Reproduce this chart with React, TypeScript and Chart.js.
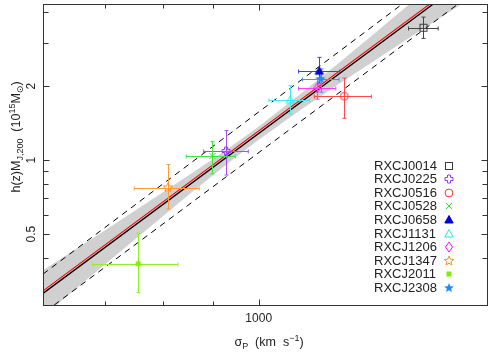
import { useEffect, useRef } from 'react';
import { Chart, registerables } from 'chart.js';

Chart.register(...registerables);

const W = 493;
const H = 354;

// ---- data ----
const clusters = ['RXCJ0014', 'RXCJ0225', 'RXCJ0516', 'RXCJ0528', 'RXCJ0658', 'RXCJ1131', 'RXCJ1206', 'RXCJ1347', 'RXCJ2011', 'RXCJ2308'];
const sigma = [1466, 927, 1220, 898, 1151, 1076, 1146, 810, 756, 1155];
const sigmaLo = [1416, 880, 1138, 845, 1097, 1024, 1097, 749, 680, 1107];
const sigmaHi = [1517, 976, 1299, 947, 1207, 1125, 1196, 871, 829, 1205];
const mass = [3.46, 1.09, 1.82, 1.04, 2.3, 1.755, 1.97, 0.774, 0.379, 2.14];
const massLo = [3.13, 0.87, 1.48, 0.88, 2.06, 1.54, 1.77, 0.633, 0.289, 1.89];
const massHi = [3.82, 1.32, 2.16, 1.19, 2.62, 2.01, 2.16, 0.96, 0.504, 2.35];
const symbols = ['square', 'plus', 'circle', 'x', 'triFill', 'tri', 'diamond', 'star', 'sq', 'starFill'];
const colors = ['#3a3a3a', '#9933ff', '#ff3030', '#33e033', '#0000d8', '#22e8e8', '#ff00ff', '#ff9020', '#80ee00', '#1e88ff'];
const barColors = ['#444444', '#a050ff', '#ff4848', '#44e044', '#3a44e8', '#44eaea', '#ff40ff', '#ff9a3a', '#8ef020', '#3a98ff'];

// confidence band of the fit
const bandX = [606, 650, 700, 750, 800, 850, 900, 950, 1000, 1100, 1200, 1300, 1400, 1500, 1600, 1703];
const bandUp = [0.3565, 0.4278, 0.5193, 0.6223, 0.7383, 0.868, 1.0141, 1.1807, 1.3725, 1.8483, 2.4585, 3.2114, 4.122, 5.207, 6.479, 7.996];
const bandLow = [0.2312, 0.2933, 0.377, 0.476, 0.5907, 0.7227, 0.8712, 1.0354, 1.212, 1.5946, 2.0212, 2.4997, 3.037, 3.639, 4.306, 5.06];

// fitted lines (end points)
const fitBlackX = [606, 1500];
const fitBlackY = [0.287, 4.322];
const fitRedX = [606, 1488];
const fitRedY = [0.294, 4.322];
const dashUpX = [606, 1396];
const dashUpY = [0.344, 4.322];
const dashLowX = [622, 1589];
const dashLowY = [0.2575, 4.322];

// axes
const xMin = 606;
const xMax = 1703;
const yMin = 0.2575;
const yMax = 4.28;
const xTicks = [700, 800, 900, 1000];
const xLabels = [1000];
const yTicks = [0.4, 0.5, 0.6, 0.7, 0.8, 0.9, 1, 2, 3, 4];
const yLabels = [0.5, 1, 2];

const FONT = '"Liberation Sans", Arial, Helvetica, sans-serif';

function makeSym(kind: string, color: string): HTMLCanvasElement {
  const S = 14;
  const c = document.createElement('canvas');
  c.width = S;
  c.height = S;
  const g = c.getContext('2d')!;
  g.translate(S / 2, S / 2);
  g.strokeStyle = color;
  g.fillStyle = color;
  g.lineWidth = 1;
  const star = (ro: number, ri: number) => {
    g.beginPath();
    for (let i = 0; i < 10; i++) {
      const r = i % 2 === 0 ? ro : ri;
      const a = -Math.PI / 2 + (i * Math.PI) / 5;
      const px = r * Math.cos(a);
      const py = r * Math.sin(a);
      if (i === 0) g.moveTo(px, py);
      else g.lineTo(px, py);
    }
    g.closePath();
  };
  switch (kind) {
    case 'square':
      g.strokeRect(-3.5, -3.5, 7, 7);
      break;
    case 'plus': {
      const a = 1.5, b = 4;
      const pts = [[-a, -b], [a, -b], [a, -a], [b, -a], [b, a], [a, a], [a, b], [-a, b], [-a, a], [-b, a], [-b, -a], [-a, -a]];
      g.beginPath();
      pts.forEach((p, i) => (i === 0 ? g.moveTo(p[0], p[1]) : g.lineTo(p[0], p[1])));
      g.closePath();
      g.stroke();
      break;
    }
    case 'circle':
      g.beginPath();
      g.arc(0, 0, 3.9, 0, Math.PI * 2);
      g.stroke();
      break;
    case 'x':
      g.beginPath();
      g.moveTo(-3, -3);
      g.lineTo(3, 3);
      g.moveTo(3, -3);
      g.lineTo(-3, 3);
      g.stroke();
      break;
    case 'triFill':
      g.beginPath();
      g.moveTo(0, -4.5);
      g.lineTo(4.2, 3);
      g.lineTo(-4.2, 3);
      g.closePath();
      g.fill();
      g.stroke();
      break;
    case 'tri':
      g.beginPath();
      g.moveTo(0, -4.5);
      g.lineTo(4.2, 3);
      g.lineTo(-4.2, 3);
      g.closePath();
      g.stroke();
      break;
    case 'diamond':
      g.beginPath();
      g.moveTo(0, -5);
      g.lineTo(3.5, 0);
      g.lineTo(0, 5);
      g.lineTo(-3.5, 0);
      g.closePath();
      g.stroke();
      break;
    case 'star':
      star(5, 2.2);
      g.stroke();
      break;
    case 'sq':
      g.fillRect(-2.5, -2.5, 5, 5);
      break;
    case 'starFill':
      star(5, 2.2);
      g.fill();
      break;
  }
  return c;
}

type Part = { t: string; size: number; dy: number; font?: string };

function richWidth(ctx: CanvasRenderingContext2D, parts: Part[]) {
  let w = 0;
  parts.forEach((p) => {
    ctx.font = `${p.size}px ${p.font || FONT}`;
    w += ctx.measureText(p.t).width;
  });
  return w;
}

function drawRich(ctx: CanvasRenderingContext2D, parts: Part[], cx: number, baseY: number) {
  const w = richWidth(ctx, parts);
  let x = cx - w / 2;
  ctx.textAlign = 'left';
  ctx.textBaseline = 'alphabetic';
  parts.forEach((p) => {
    ctx.font = `${p.size}px ${p.font || FONT}`;
    ctx.fillText(p.t, x, baseY + p.dy);
    x += ctx.measureText(p.t).width;
  });
}

export default function App() {
  const ref = useRef<HTMLCanvasElement>(null);

  useEffect(() => {
    document.body.style.margin = '0';
    const canvas = ref.current!;
    const syms = symbols.map((s, i) => makeSym(s, colors[i]));

    const line = (xs: number[], ys: number[]) => xs.map((x, i) => ({ x, y: ys[i] }));

    const datasets: any[] = [
      {
        label: 'bandUp',
        data: line(bandX, bandUp),
        showLine: true,
        fill: '+1',
        backgroundColor: '#d0d0d0',
        borderWidth: 0,
        borderColor: 'rgba(0,0,0,0)',
        pointRadius: 0,
        order: 10,
      },
      {
        label: 'bandLow',
        data: line(bandX, bandLow),
        showLine: true,
        fill: false,
        borderWidth: 0,
        borderColor: 'rgba(0,0,0,0)',
        pointRadius: 0,
        order: 10,
      },
      {
        label: 'dashUp',
        data: line(dashUpX, dashUpY),
        showLine: true,
        borderColor: '#000',
        borderWidth: 1,
        borderDash: [6, 5],
        pointRadius: 0,
        order: 6,
      },
      {
        label: 'dashLow',
        data: line(dashLowX, dashLowY),
        showLine: true,
        borderColor: '#000',
        borderWidth: 1,
        borderDash: [6, 5],
        pointRadius: 0,
        order: 6,
      },
      {
        label: 'fitBlack',
        data: line(fitBlackX, fitBlackY),
        showLine: true,
        borderColor: '#000',
        borderWidth: 1.3,
        pointRadius: 0,
        order: 5,
      },
      {
        label: 'fitRed',
        data: line(fitRedX, fitRedY),
        showLine: true,
        borderColor: '#ff0000',
        borderWidth: 1.1,
        pointRadius: 0,
        order: 4,
      },
    ];
    const RED_INDEX = 5;
    clusters.forEach((name, i) => {
      datasets.push({
        label: name,
        data: [{ x: sigma[i], y: mass[i] }],
        pointStyle: syms[i],
        pointRadius: 4,
        showLine: false,
        order: 0,
      });
    });

    const custom = {
      id: 'custom',
      afterDatasetDraw(chart: any, args: any) {
        if (args.index !== RED_INDEX) return;
        const ctx: CanvasRenderingContext2D = chart.ctx;
        const xs = chart.scales.x;
        const ys = chart.scales.y;
        const a = chart.chartArea;
        ctx.save();
        ctx.beginPath();
        ctx.rect(a.left, a.top, a.right - a.left, a.bottom - a.top);
        ctx.clip();
        ctx.lineWidth = 1;
        const cap = 2;
        clusters.forEach((_, i) => {
          ctx.strokeStyle = barColors[i];
          const cx = xs.getPixelForValue(sigma[i]);
          const cy = ys.getPixelForValue(mass[i]);
          const x0 = xs.getPixelForValue(sigmaLo[i]);
          const x1 = xs.getPixelForValue(sigmaHi[i]);
          const y0 = ys.getPixelForValue(massLo[i]);
          const y1 = ys.getPixelForValue(massHi[i]);
          const rx = Math.round(cx) + 0.5;
          const ry = Math.round(cy) + 0.5;
          ctx.beginPath();
          ctx.moveTo(x0, ry);
          ctx.lineTo(x1, ry);
          ctx.moveTo(x0, ry - cap);
          ctx.lineTo(x0, ry + cap);
          ctx.moveTo(x1, ry - cap);
          ctx.lineTo(x1, ry + cap);
          ctx.moveTo(rx, y0);
          ctx.lineTo(rx, y1);
          ctx.moveTo(rx - cap, y0);
          ctx.lineTo(rx + cap, y0);
          ctx.moveTo(rx - cap, y1);
          ctx.lineTo(rx + cap, y1);
          ctx.stroke();
        });
        ctx.restore();
      },
      afterDraw(chart: any) {
        const ctx: CanvasRenderingContext2D = chart.ctx;
        const xs = chart.scales.x;
        const ys = chart.scales.y;
        const a = chart.chartArea;
        const L = Math.round(a.left) + 0.5;
        const R = Math.round(a.right) - 0.5;
        const T = Math.round(a.top) - 0.5;
        const B = Math.round(a.bottom) + 0.5;
        ctx.save();
        ctx.strokeStyle = '#333';
        ctx.lineWidth = 1;
        ctx.strokeRect(L, T, R - L, B - T);
        // ticks
        ctx.beginPath();
        yTicks.forEach((v) => {
          const p = Math.round(ys.getPixelForValue(v)) + 0.5;
          const len = yLabels.includes(v) ? 6 : 5;
          ctx.moveTo(L, p);
          ctx.lineTo(L + len, p);
          ctx.moveTo(R, p);
          ctx.lineTo(R - len, p);
        });
        xTicks.forEach((v) => {
          const p = Math.round(xs.getPixelForValue(v)) + 0.5;
          const len = xLabels.includes(v) ? 6 : 4;
          ctx.moveTo(p, B);
          ctx.lineTo(p, B - len);
          ctx.moveTo(p, T);
          ctx.lineTo(p, T + len);
        });
        ctx.stroke();

        ctx.fillStyle = '#222';
        // x tick labels
        ctx.font = `12px ${FONT}`;
        ctx.textAlign = 'center';
        ctx.textBaseline = 'alphabetic';
        xLabels.forEach((v) => {
          ctx.fillText(String(v), xs.getPixelForValue(v), 321.5);
        });
        // y tick labels (rotated)
        yLabels.forEach((v) => {
          const p = ys.getPixelForValue(v);
          ctx.save();
          ctx.translate(35, p);
          ctx.rotate(-Math.PI / 2);
          ctx.textAlign = 'center';
          ctx.fillText(String(v), 0, 0);
          ctx.restore();
        });

        // x title
        drawRich(
          ctx,
          [
            { t: 'σ', size: 12.5, dy: 0 },
            { t: 'P', size: 9, dy: 3 },
            { t: '  (km  s', size: 12.5, dy: 0 },
            { t: '−1', size: 9, dy: -5 },
            { t: ')', size: 12.5, dy: 0 },
          ],
          269,
          346
        );
        // y title
        ctx.save();
        ctx.translate(19.5, 137);
        ctx.rotate(-Math.PI / 2);
        drawRich(
          ctx,
          [
            { t: 'h(z)M', size: 12.5, dy: 0 },
            { t: 'J,200', size: 9, dy: 3 },
            { t: '  (10', size: 12.5, dy: 0 },
            { t: '15', size: 9, dy: -5 },
            { t: 'M', size: 12.5, dy: 0 },
            { t: '⊙', size: 9, dy: 3, font: '"DejaVu Sans", sans-serif' },
            { t: ')', size: 12.5, dy: 0 },
          ],
          0,
          0
        );
        ctx.restore();

        // legend
        ctx.font = `13px ${FONT}`;
        ctx.textAlign = 'left';
        ctx.textBaseline = 'middle';
        clusters.forEach((name, i) => {
          const y = 165.7 + i * 13.56;
          ctx.fillStyle = '#222';
          ctx.fillText(name, 374, y + 0.5);
          const s = syms[i];
          ctx.drawImage(s, Math.round(449 - s.width / 2), Math.round(y - s.height / 2));
        });
        ctx.restore();
      },
    };

    const chart = new Chart(canvas, {
      type: 'scatter',
      data: { datasets },
      options: {
        animation: false,
        responsive: false,
        maintainAspectRatio: false,
        devicePixelRatio: 1,
        layout: { padding: { left: 43, right: 1, top: 1, bottom: 49 } },
        plugins: {
          legend: { display: false },
          tooltip: { enabled: false },
          title: { display: false },
        },
        elements: { line: { tension: 0 } },
        scales: {
          x: { type: 'logarithmic', min: xMin, max: xMax, display: false },
          y: { type: 'logarithmic', min: yMin, max: yMax, display: false },
        },
      } as any,
      plugins: [custom as any],
    });
    return () => chart.destroy();
  }, []);

  return (
    <div style={{ width: W, height: H }}>
      <canvas ref={ref} width={W} height={H} style={{ width: W, height: H, display: 'block' }} />
    </div>
  );
}
